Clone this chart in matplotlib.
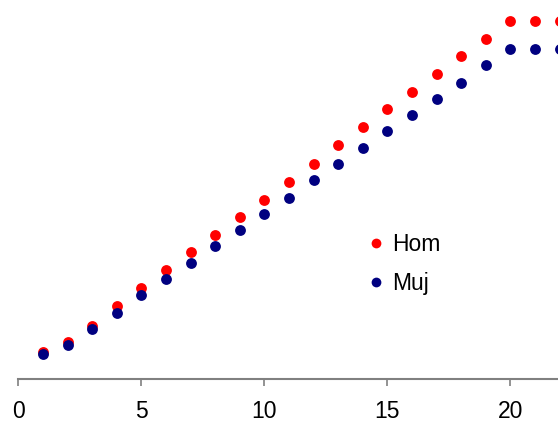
import matplotlib
matplotlib.use("Agg")
import matplotlib.pyplot as plt
import numpy as np

plt.rcParams['font.family'] = ['Liberation Sans', 'DejaVu Sans']

# datos
edad = list(range(1, 23))
hom = [27.6, 37.0, 53.6, 73.6, 91.3, 109.0, 127.0, 144.3, 162.0, 179.6, 197.3,
       215.0, 234.3, 252.3, 270.0, 287.6, 305.6, 323.0, 340.6, 358.3, 358.3, 358.3]
muj = [25.6, 34.6, 50.3, 66.3, 84.3, 100.0, 116.6, 133.3, 149.6, 165.6, 181.6,
       199.3, 215.0, 231.0, 248.6, 264.3, 280.6, 296.3, 314.3, 330.0, 330.0, 330.0]
xticks = [0, 5, 10, 15, 20]

W, H = 558, 421
fig = plt.figure(figsize=(W / 100, H / 100), dpi=100)
x0, yax = 18.3, 379.3
ax = fig.add_axes([x0 / W, (H - yax) / H, (W - x0) / W, yax / H])

ax.plot(edad, hom, 'o', color='#ff0000', markersize=7.8, markeredgewidth=0,
        label='Hom', clip_on=False)
ax.plot(edad, muj, 'o', color='#000080', markersize=7.8, markeredgewidth=0,
        label='Muj', clip_on=False)

ax.set_xlim(0, (W - x0) / 24.6)
ax.set_ylim(0, yax)
ax.set_xticks(xticks)
ax.set_yticks([])

# solo el eje x, en gris
for s in ['left', 'right', 'top']:
    ax.spines[s].set_visible(False)
ax.spines['bottom'].set_color('#808080')
ax.spines['bottom'].set_linewidth(1.5)
ax.tick_params(axis='x', colors='#808080', labelcolor='black', length=5,
               width=1.2, labelsize=16.5, pad=10)

ax.legend(loc='upper left', bbox_to_anchor=(370.3 / W, 1 - 232.8 / H),
          bbox_transform=fig.transFigure, frameon=False, fontsize=16.5,
          handlelength=0.5, handletextpad=0.435, labelspacing=0.72,
          borderpad=0, borderaxespad=0, markerscale=0.9)

fig.savefig('out.png', dpi=100)
